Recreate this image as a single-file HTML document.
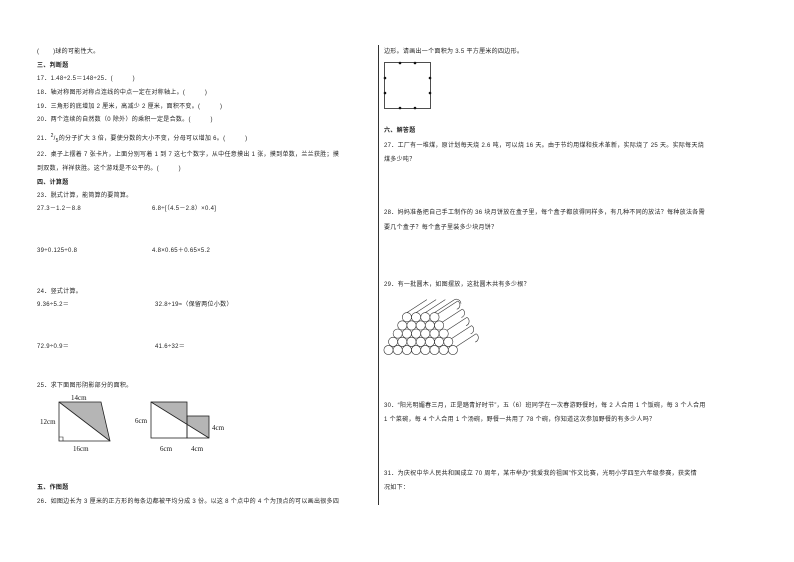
<!DOCTYPE html>
<html><head><meta charset="utf-8"><style>
body{margin:0;width:794px;height:562px;background:#fff;position:relative;overflow:hidden;font-family:"Liberation Sans","Noto Sans CJK SC",sans-serif;color:#222}
.t{position:absolute;font-size:6px;line-height:7px;white-space:nowrap;letter-spacing:0.3px}
.b{font-weight:bold}
</style></head><body>
<div style="position:absolute;left:378px;top:45px;width:1px;height:460px;background:#333"></div>
<div class="t" style="left:37px;top:49px">(&nbsp;&nbsp;&nbsp;&nbsp;&nbsp;&nbsp;&nbsp;)球的可能性大。</div>
<div class="t b" style="left:37px;top:63px">三、判断题</div>
<div class="t" style="left:37px;top:76px">17．1.48÷2.5＝148÷25．(&nbsp;&nbsp;&nbsp;&nbsp;&nbsp;&nbsp;&nbsp;&nbsp;&nbsp;&nbsp;)</div>
<div class="t" style="left:37px;top:90px">18．轴对称图形对称点连线的中点一定在对称轴上。(&nbsp;&nbsp;&nbsp;&nbsp;&nbsp;&nbsp;&nbsp;&nbsp;&nbsp;&nbsp;)</div>
<div class="t" style="left:37px;top:104px">19．三角形的底增加 2 厘米，高减少 2 厘米，面积不变。(&nbsp;&nbsp;&nbsp;&nbsp;&nbsp;&nbsp;&nbsp;&nbsp;&nbsp;&nbsp;)</div>
<div class="t" style="left:37px;top:117px">20．两个连续的自然数（0 除外）的乘积一定是合数。(&nbsp;&nbsp;&nbsp;&nbsp;&nbsp;&nbsp;&nbsp;&nbsp;&nbsp;&nbsp;)</div>
<div class="t" style="left:37px;top:133px">21．<sup style="font-size:5px">2</sup>/<sub style="font-size:5px">5</sub>的分子扩大 3 倍，要使分数的大小不变，分母可以增加 6。(&nbsp;&nbsp;&nbsp;&nbsp;&nbsp;&nbsp;&nbsp;&nbsp;&nbsp;&nbsp;)</div>
<div class="t" style="left:37px;top:152px">22．桌子上摆着 7 张卡片，上面分别写着 1 到 7 这七个数字，从中任意摸出 1 张，摸到单数，兰兰获胜；摸</div>
<div class="t" style="left:37px;top:166px">到双数，祥祥获胜。这个游戏是不公平的。(&nbsp;&nbsp;&nbsp;&nbsp;&nbsp;&nbsp;&nbsp;&nbsp;&nbsp;&nbsp;)</div>
<div class="t b" style="left:37px;top:180px">四、计算题</div>
<div class="t" style="left:37px;top:193px">23．脱式计算，能简算的要简算。</div>
<div class="t" style="left:37px;top:206px">27.3－1.2－8.8</div>
<div class="t" style="left:152px;top:206px">6.8÷[（4.5－2.8）×0.4]</div>
<div class="t" style="left:37px;top:248px">39÷0.125÷0.8</div>
<div class="t" style="left:152px;top:248px">4.8×0.65＋0.65×5.2</div>
<div class="t" style="left:37px;top:289px">24．竖式计算。</div>
<div class="t" style="left:37px;top:302px">9.36÷5.2＝</div>
<div class="t" style="left:155px;top:302px">32.8÷19≈（保留两位小数）</div>
<div class="t" style="left:37px;top:344px">72.9÷0.9＝</div>
<div class="t" style="left:155px;top:344px">41.6÷32＝</div>
<div class="t" style="left:37px;top:383px">25．求下面图形阴影部分的面积。</div>
<svg style="position:absolute;left:0;top:0" width="794" height="562">
<g font-family="Liberation Serif" font-size="7" fill="#111">
<polygon points="59,402 101,402 110,441" fill="#b5b5b5"/>
<polygon points="59,402 101,402 110,441 59,441" fill="none" stroke="#222" stroke-width="0.8"/>
<line x1="59" y1="402" x2="110" y2="441" stroke="#222" stroke-width="0.8"/>
<polyline points="59,437 63,437 63,441" fill="none" stroke="#222" stroke-width="0.6"/>
<text x="71" y="400">14cm</text><text x="40" y="424">12cm</text><text x="73" y="451">16cm</text>
<polygon points="151,402 187,402 187,424.3" fill="#b5b5b5"/>
<polygon points="187,424.3 187,416 209,416 209,438" fill="#b5b5b5"/>
<rect x="151" y="402" width="36" height="36" fill="none" stroke="#222" stroke-width="0.8"/>
<rect x="187" y="416" width="22" height="22" fill="none" stroke="#222" stroke-width="0.8"/>
<line x1="151" y1="402" x2="209" y2="438" stroke="#222" stroke-width="0.8"/>
<text x="135" y="423">6cm</text><text x="212" y="430">4cm</text><text x="160" y="451">6cm</text><text x="191" y="451">4cm</text>
</g>
<rect x="384.5" y="62.5" width="46" height="46" fill="none" stroke="#222" stroke-width="0.8"/>
<g fill="#111"><circle cx="400" cy="63" r="1.3"/><circle cx="415" cy="63" r="1.3"/><circle cx="400" cy="108" r="1.3"/><circle cx="415" cy="108" r="1.3"/><circle cx="385" cy="78" r="1.3"/><circle cx="385" cy="93" r="1.3"/><circle cx="430" cy="78" r="1.3"/><circle cx="430" cy="93" r="1.3"/></g>
<g id="logs" stroke="#333" stroke-width="0.6"></g>
</svg>
<script>
var g=document.getElementById('logs'),r=4.6,d=9.2,s='',c='';
var rows=[8,7,6,5,4],dx=20,dy=-13;
for(var i=0;i<rows.length;i++){var n=rows[i],y=350-i*8.2,x0=388.5+i*d/2;
var xr=x0+(n-1)*d;
s+='<line x1="'+(xr+r*0.7)+'" y1="'+(y-r*0.7)+'" x2="'+(xr+r*0.7+dx)+'" y2="'+(y-r*0.7+dy)+'"/>';
s+='<path d="M'+(xr+r*0.7+dx)+','+(y-r*0.7+dy)+' a'+r+','+r+' 0 0 1 '+(-r*0.2)+','+(r*1.8)+'" fill="none"/>';
if(i==rows.length-1){for(var j=0;j<n;j++){s+='<line x1="'+(x0+j*d)+'" y1="'+(y-r)+'" x2="'+(x0+j*d+dx)+'" y2="'+(y-r+dy)+'"/>';}
s+='<path d="M'+(x0+(n-1)*d+dx)+','+(y-r+dy)+' a'+r+','+r+' 0 0 1 '+(r*1.4)+','+(r*0.9)+'" fill="none"/>';}
for(var j=0;j<n;j++){c+='<circle cx="'+(x0+j*d)+'" cy="'+y+'" r="'+r+'" fill="#fff"/>';}}
g.innerHTML=s+c;
</script>
<div class="t b" style="left:37px;top:485px">五、作图题</div>
<div class="t" style="left:37px;top:499px">26．如图边长为 3 厘米的正方形的每条边都被平均分成 3 份。以这 8 个点中的 4 个为顶点的可以画出很多四</div>
<div class="t" style="left:384px;top:49px">边形。请画出一个面积为 3.5 平方厘米的四边形。</div>
<div class="t b" style="left:384px;top:128px">六、解答题</div>
<div class="t" style="left:384px;top:143px">27．工厂有一堆煤，原计划每天烧 2.6 吨，可以烧 16 天。由于节约用煤和技术革新，实际烧了 25 天。实际每天烧</div>
<div class="t" style="left:384px;top:157px">煤多少吨？</div>
<div class="t" style="left:384px;top:210px">28．妈妈准备把自己手工制作的 36 块月饼放在盒子里，每个盒子都放得同样多，有几种不同的放法？每种放法各需</div>
<div class="t" style="left:384px;top:225px">要几个盒子？每个盒子里装多少块月饼？</div>
<div class="t" style="left:384px;top:282px">29．有一批圆木，如图摆放，这批圆木共有多少根？</div>
<div class="t" style="left:384px;top:403px">30．“阳光明媚春三月，正是踏青好时节”，五（6）班同学在一次春游野餐时，每 2 人合用 1 个饭碗，每 3 个人合用</div>
<div class="t" style="left:384px;top:417px">1 个菜碗，每 4 个人合用 1 个汤碗，野餐一共用了 78 个碗，你知道这次参加野餐的有多少人吗？</div>
<div class="t" style="left:384px;top:471px">31．为庆祝中华人民共和国成立 70 周年，某市举办“我爱我的祖国”作文比赛，光明小学四至六年级参赛，获奖情</div>
<div class="t" style="left:384px;top:485px">况如下：</div>
</body></html>
